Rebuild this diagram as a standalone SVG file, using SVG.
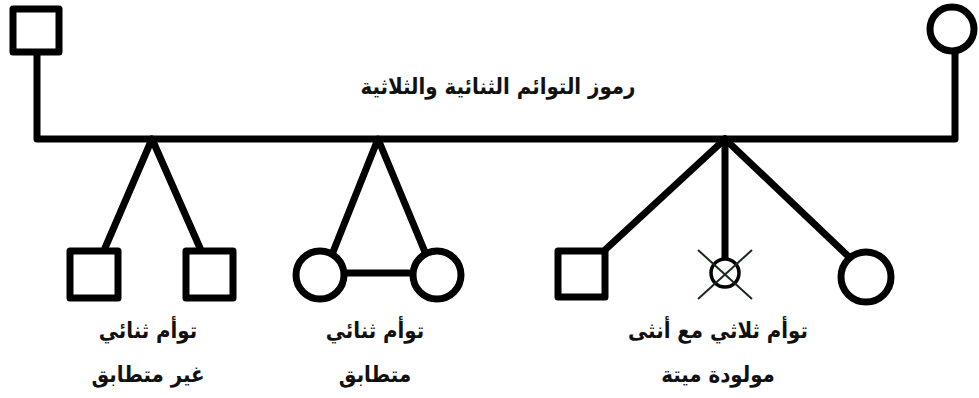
<svg xmlns="http://www.w3.org/2000/svg" width="979" height="398" viewBox="0 0 979 398">
<style>
.s{fill:none;stroke:#000;stroke-width:7;stroke-linejoin:round;stroke-linecap:round}
.n{fill:#fff;stroke:#000;stroke-width:7;stroke-linejoin:round}
.t{font-family:"DejaVu Sans Condensed","DejaVu Sans",sans-serif;font-weight:bold;font-size:22px;fill:#111;text-anchor:middle}
.x{stroke:#1a2a1a;stroke-width:2;fill:none}
</style>
<rect width="979" height="398" fill="#fff"/>
<g id="connectors">
<polyline class="s" points="37,55 37,139 955,139 955,53"/>
<polyline class="s" points="105,248 152,139 200,248"/>
<polyline class="s" points="333,252 378,139 425,252"/>
<line class="s" x1="347" y1="273" x2="409" y2="273"/>
<line class="s" x1="606" y1="249" x2="725" y2="139"/>
<line class="s" x1="725" y1="139" x2="725" y2="259"/>
<line class="s" x1="725" y1="139" x2="848" y2="256"/>
</g>
<g id="father"><rect class="n" x="13" y="9" width="46" height="43"/></g>
<g id="mother"><circle class="n" cx="952" cy="29" r="22"/></g>
<g id="title"><text class="t" x="498" y="94">رموز التوائم الثنائية والثلاثية</text></g>
<g id="twin1a"><rect class="n" x="70" y="251" width="48" height="47"/></g>
<g id="twin1b"><rect class="n" x="186" y="251" width="47" height="47"/></g>
<g id="twin2a"><circle class="n" cx="320" cy="275" r="24"/></g>
<g id="twin2b"><circle class="n" cx="437" cy="275" r="24"/></g>
<g id="trip1"><rect class="n" x="558" y="251" width="47" height="46"/></g>
<g id="trip2">
<circle cx="725" cy="273" r="14" fill="#fff" stroke="#000" stroke-width="3.5"/>
<line class="x" x1="698" y1="250" x2="752" y2="299"/>
<line class="x" x1="752" y1="250" x2="698" y2="299"/>
</g>
<g id="trip3"><circle class="n" cx="866" cy="277" r="25"/></g>
<g id="label1"><text class="t" x="148" y="338">توأم ثنائي</text><text class="t" x="148" y="382">غير متطابق</text></g>
<g id="label2"><text class="t" x="375" y="338">توأم ثنائي</text><text class="t" x="375" y="382">متطابق</text></g>
<g id="label3"><text class="t" x="718" y="338">توأم ثلاثي مع أنثى</text><text class="t" x="718" y="382">مولودة ميتة</text></g>
</svg>
